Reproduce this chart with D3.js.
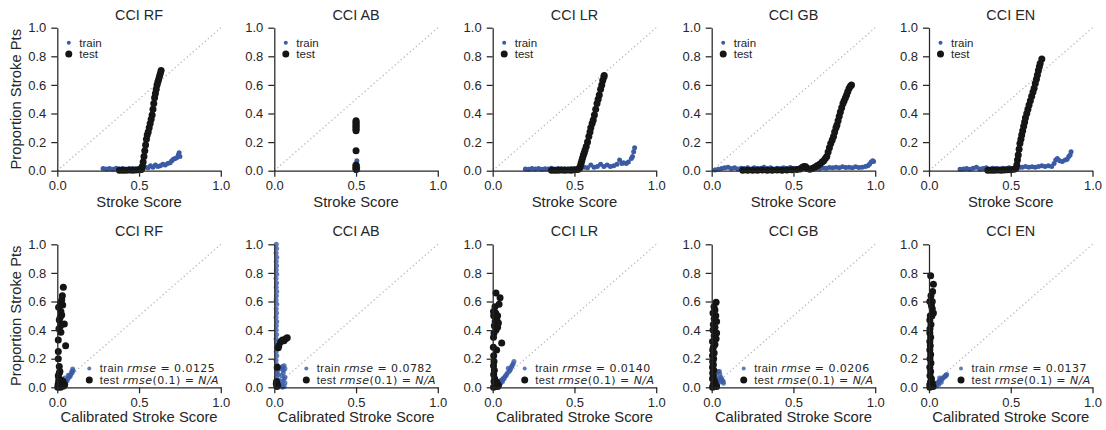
<!DOCTYPE html>
<html>
<head>
<meta charset="utf-8">
<script src="https://cdn.jsdelivr.net/npm/d3@7"></script>
<style>
  body { margin: 0; background: #fff; }
  text { font-family: "Liberation Sans", Arial, sans-serif; fill: #262626; }
  .math { font-family: "DejaVu Sans", sans-serif; }
</style>
</head>
<body>
<svg id="chart" width="1106" height="430"></svg>
<script>
var models = ["RF", "AB", "LR", "GB", "EN"];
var rmseLabels = ["0.0125", "0.0782", "0.0140", "0.0206", "0.0137"];
var xTicks = [0, 0.5, 1];
var yTicks = [0, 0.2, 0.4, 0.6, 0.8, 1];

// raw score calibration curves (top row)
var rfTrain = [[0.28,0.015],[0.30,0.012],[0.32,0.015],[0.34,0.01],[0.36,0.018],[0.38,0.012],[0.40,0.015],[0.42,0.01],[0.44,0.013],[0.46,0.016],[0.48,0.012],[0.50,0.018],[0.52,0.014],[0.54,0.025],[0.555,0.02],[0.57,0.035],[0.585,0.025],[0.60,0.04],[0.615,0.03],[0.63,0.035],[0.645,0.045],[0.66,0.04],[0.675,0.05],[0.69,0.055],[0.70,0.07],[0.71,0.08],[0.72,0.085],[0.73,0.09],[0.74,0.11],[0.745,0.125],[0.75,0.1]];
var rfTest = [[0.38,0.003],[0.40,0.004],[0.42,0.003],[0.44,0.005],[0.46,0.004],[0.48,0.005],[0.50,0.006],[0.51,0.008],[0.515,0.01],[0.52,0.03],[0.525,0.06],[0.53,0.1],[0.535,0.14],[0.54,0.18],[0.545,0.22],[0.55,0.25],[0.556,0.27],[0.562,0.30],[0.568,0.33],[0.574,0.36],[0.58,0.39],[0.585,0.43],[0.59,0.47],[0.595,0.51],[0.60,0.54],[0.605,0.57],[0.61,0.6],[0.615,0.62],[0.62,0.64],[0.625,0.66],[0.63,0.68],[0.635,0.70]];

var abTrain = [[0.5,0.0],[0.5,0.01],[0.5,0.02],[0.505,0.015],[0.5,0.03],[0.51,0.02],[0.505,0.04],[0.505,0.07],[0.51,0.005]];
var abTest = [[0.5,0.35],[0.5,0.34],[0.5,0.33],[0.5,0.32],[0.5,0.31],[0.5,0.30],[0.5,0.29],[0.5,0.28],[0.5,0.14],[0.5,0.04],[0.5,0.035],[0.5,0.025],[0.5,0.015],[0.5,0.01]];

var lrTrain = [[0.20,0.012],[0.22,0.01],[0.24,0.015],[0.26,0.012],[0.28,0.016],[0.30,0.01],[0.32,0.014],[0.34,0.012],[0.36,0.018],[0.38,0.01],[0.40,0.015],[0.42,0.012],[0.44,0.014],[0.46,0.01],[0.48,0.016],[0.50,0.012],[0.52,0.018],[0.54,0.02],[0.56,0.025],[0.58,0.02],[0.60,0.04],[0.62,0.025],[0.64,0.03],[0.66,0.045],[0.68,0.03],[0.70,0.04],[0.72,0.03],[0.74,0.035],[0.76,0.045],[0.776,0.075],[0.79,0.05],[0.80,0.055],[0.817,0.05],[0.83,0.06],[0.848,0.086],[0.855,0.1],[0.862,0.133],[0.868,0.16]];
var lrTest = [[0.36,0.003],[0.38,0.004],[0.40,0.003],[0.42,0.005],[0.44,0.004],[0.46,0.005],[0.48,0.004],[0.50,0.006],[0.52,0.008],[0.53,0.015],[0.535,0.03],[0.54,0.05],[0.545,0.07],[0.55,0.09],[0.555,0.11],[0.56,0.125],[0.565,0.145],[0.572,0.17],[0.58,0.2],[0.588,0.24],[0.595,0.27],[0.60,0.3],[0.608,0.33],[0.615,0.355],[0.622,0.39],[0.63,0.43],[0.638,0.47],[0.645,0.5],[0.652,0.53],[0.66,0.57],[0.667,0.6],[0.673,0.63],[0.68,0.655],[0.682,0.665]];

var gbTrain = [[0.02,0.005],[0.04,0.01],[0.06,0.015],[0.08,0.02],[0.10,0.025],[0.12,0.015],[0.14,0.02],[0.16,0.012],[0.18,0.018],[0.20,0.015],[0.22,0.02],[0.24,0.012],[0.26,0.02],[0.28,0.015],[0.30,0.018],[0.32,0.025],[0.34,0.015],[0.36,0.02],[0.38,0.012],[0.40,0.018],[0.42,0.015],[0.44,0.02],[0.46,0.015],[0.48,0.022],[0.50,0.018],[0.52,0.015],[0.54,0.02],[0.56,0.018],[0.58,0.022],[0.60,0.015],[0.62,0.02],[0.64,0.018],[0.66,0.015],[0.68,0.02],[0.70,0.018],[0.72,0.022],[0.74,0.02],[0.76,0.025],[0.78,0.02],[0.80,0.028],[0.82,0.022],[0.84,0.025],[0.86,0.02],[0.88,0.028],[0.90,0.022],[0.92,0.025],[0.94,0.03],[0.955,0.035],[0.965,0.045],[0.975,0.06],[0.985,0.07],[0.99,0.065]];
var gbTest = [[0.19,0.003],[0.22,0.004],[0.25,0.003],[0.28,0.004],[0.31,0.005],[0.34,0.004],[0.37,0.003],[0.40,0.005],[0.43,0.004],[0.46,0.005],[0.49,0.006],[0.52,0.008],[0.54,0.012],[0.555,0.025],[0.565,0.03],[0.575,0.028],[0.585,0.015],[0.60,0.01],[0.615,0.015],[0.63,0.025],[0.645,0.035],[0.66,0.045],[0.675,0.06],[0.685,0.07],[0.695,0.085],[0.704,0.1],[0.712,0.13],[0.72,0.16],[0.728,0.19],[0.737,0.214],[0.745,0.24],[0.752,0.27],[0.76,0.3],[0.766,0.32],[0.773,0.35],[0.78,0.38],[0.787,0.41],[0.795,0.44],[0.803,0.47],[0.81,0.49],[0.818,0.51],[0.825,0.53],[0.832,0.552],[0.84,0.575],[0.848,0.59],[0.855,0.6]];

var enTrain = [[0.19,0.01],[0.21,0.012],[0.23,0.015],[0.25,0.01],[0.27,0.018],[0.29,0.025],[0.31,0.012],[0.33,0.015],[0.35,0.02],[0.37,0.012],[0.39,0.018],[0.41,0.015],[0.43,0.012],[0.45,0.018],[0.47,0.014],[0.49,0.02],[0.51,0.016],[0.53,0.02],[0.55,0.022],[0.57,0.025],[0.59,0.03],[0.61,0.025],[0.63,0.028],[0.65,0.025],[0.67,0.03],[0.69,0.035],[0.71,0.03],[0.73,0.035],[0.75,0.03],[0.765,0.05],[0.775,0.075],[0.785,0.086],[0.80,0.07],[0.815,0.065],[0.833,0.075],[0.845,0.08],[0.855,0.1],[0.863,0.11],[0.869,0.133]];
var enTest = [[0.36,0.003],[0.38,0.004],[0.40,0.003],[0.42,0.005],[0.44,0.004],[0.46,0.005],[0.48,0.006],[0.50,0.007],[0.52,0.01],[0.53,0.015],[0.537,0.04],[0.541,0.075],[0.546,0.11],[0.551,0.15],[0.556,0.19],[0.562,0.22],[0.567,0.249],[0.573,0.28],[0.579,0.31],[0.585,0.34],[0.59,0.37],[0.598,0.40],[0.605,0.43],[0.612,0.46],[0.62,0.49],[0.628,0.52],[0.636,0.55],[0.643,0.576],[0.65,0.61],[0.657,0.64],[0.663,0.67],[0.669,0.70],[0.675,0.727],[0.68,0.75],[0.69,0.781]];

// calibrated score curves (bottom row)
var rfCalTrain = [[0.005,0.005],[0.01,0.0],[0.015,0.01],[0.02,0.005],[0.025,0.015],[0.03,0.01],[0.035,0.02],[0.04,0.03],[0.045,0.025],[0.05,0.04],[0.055,0.05],[0.06,0.045],[0.065,0.06],[0.067,0.085],[0.07,0.07],[0.075,0.08],[0.078,0.075],[0.082,0.09],[0.088,0.11],[0.09,0.1],[0.094,0.128],[0.097,0.115],[0.04,0.0],[0.05,0.02],[0.045,0.065]];
var rfCalTest = [[0.003,0.0],[0.005,0.02],[0.008,0.04],[0.01,0.06],[0.006,0.08],[0.012,0.1],[0.016,0.11],[0.012,0.145],[0.006,0.2],[0.006,0.25],[0.006,0.33],[0.022,0.385],[0.01,0.41],[0.012,0.47],[0.043,0.443],[0.027,0.506],[0.022,0.53],[0.008,0.56],[0.033,0.576],[0.02,0.59],[0.027,0.61],[0.031,0.64],[0.037,0.70],[0.051,0.291],[0.03,0.02],[0.04,0.01],[0.02,0.0],[0.015,0.03],[0.025,0.05],[0.035,0.04],[0.045,0.02],[0.01,0.01],[0.02,0.43],[0.018,0.49]];

var abCalTrain = [[0.012,1.0],[0.014,0.97],[0.011,0.94],[0.015,0.91],[0.012,0.88],[0.014,0.85],[0.012,0.82],[0.015,0.79],[0.011,0.76],[0.014,0.73],[0.012,0.70],[0.015,0.67],[0.013,0.64],[0.011,0.61],[0.015,0.58],[0.012,0.55],[0.014,0.52],[0.011,0.49],[0.015,0.46],[0.013,0.43],[0.012,0.40],[0.014,0.37],[0.011,0.34],[0.015,0.31],[0.013,0.28],[0.012,0.25],[0.015,0.22],[0.011,0.19],[0.014,0.16],[0.012,0.13],[0.015,0.10],[0.013,0.07],[0.011,0.04],[0.014,0.01],[0.02,0.12],[0.03,0.14],[0.04,0.13],[0.05,0.145],[0.06,0.15],[0.065,0.13],[0.055,0.1],[0.045,0.08],[0.06,0.06],[0.05,0.04],[0.065,0.03],[0.04,0.02],[0.03,0.05],[0.025,0.09],[0.06,0.005],[0.05,0.0],[0.035,0.01],[0.02,0.03],[0.065,0.07],[0.055,0.12]];
var abCalTest = [[0.079,0.347],[0.07,0.34],[0.059,0.326],[0.05,0.33],[0.039,0.319],[0.028,0.29],[0.024,0.277],[0.018,0.14],[0.014,0.04],[0.02,0.016],[0.012,0.025],[0.016,0.005]];

var lrCalTrain = [[0.01,0.005],[0.02,0.01],[0.025,0.0],[0.03,0.02],[0.035,0.028],[0.04,0.035],[0.045,0.04],[0.05,0.047],[0.055,0.05],[0.06,0.055],[0.065,0.063],[0.07,0.06],[0.075,0.075],[0.08,0.08],[0.085,0.09],[0.09,0.1],[0.095,0.133],[0.1,0.11],[0.106,0.121],[0.11,0.13],[0.116,0.145],[0.12,0.155],[0.125,0.165],[0.13,0.18],[0.04,0.01],[0.05,0.03],[0.06,0.04]];
var lrCalTest = [[0.02,0.66],[0.045,0.627],[0.039,0.58],[0.014,0.564],[0.005,0.53],[0.018,0.52],[0.03,0.5],[0.025,0.47],[0.035,0.45],[0.01,0.43],[0.03,0.42],[0.02,0.40],[0.008,0.38],[0.005,0.35],[0.055,0.31],[0.024,0.26],[0.006,0.22],[0.008,0.18],[0.005,0.15],[0.01,0.12],[0.006,0.09],[0.012,0.06],[0.008,0.04],[0.02,0.02],[0.015,0.01],[0.03,0.005],[0.005,0.0],[0.035,0.015],[0.025,0.035],[0.004,0.28],[0.015,0.46],[0.006,0.50]];

var gbCalTrain = [[0.01,0.25],[0.012,0.2],[0.015,0.15],[0.02,0.12],[0.03,0.1],[0.04,0.11],[0.047,0.11],[0.05,0.09],[0.055,0.07],[0.06,0.06],[0.058,0.04],[0.072,0.028],[0.065,0.05],[0.07,0.04],[0.045,0.06],[0.04,0.03],[0.03,0.02],[0.02,0.01],[0.01,0.005],[0.035,0.05],[0.025,0.07]];
var gbCalTest = [[0.027,0.594],[0.014,0.564],[0.02,0.54],[0.008,0.52],[0.025,0.50],[0.015,0.48],[0.03,0.46],[0.01,0.44],[0.02,0.42],[0.008,0.40],[0.03,0.38],[0.015,0.36],[0.027,0.34],[0.005,0.32],[0.02,0.30],[0.01,0.28],[0.006,0.26],[0.015,0.24],[0.005,0.22],[0.012,0.20],[0.006,0.18],[0.01,0.16],[0.005,0.14],[0.012,0.12],[0.006,0.10],[0.01,0.08],[0.005,0.06],[0.015,0.05],[0.02,0.03],[0.01,0.02],[0.025,0.01],[0.005,0.0],[0.03,0.005]];

var enCalTrain = [[0.01,0.005],[0.02,0.01],[0.03,0.02],[0.04,0.025],[0.05,0.03],[0.057,0.028],[0.06,0.04],[0.067,0.05],[0.07,0.045],[0.075,0.055],[0.08,0.06],[0.084,0.063],[0.09,0.07],[0.098,0.075],[0.1,0.08],[0.105,0.085],[0.108,0.09],[0.06,0.02],[0.065,0.065],[0.075,0.035],[0.045,0.01]];
var enCalTest = [[0.01,0.78],[0.027,0.72],[0.022,0.67],[0.012,0.64],[0.005,0.60],[0.015,0.57],[0.02,0.55],[0.027,0.52],[0.008,0.50],[0.005,0.47],[0.012,0.44],[0.006,0.41],[0.005,0.38],[0.01,0.35],[0.005,0.32],[0.008,0.29],[0.005,0.26],[0.01,0.23],[0.006,0.20],[0.012,0.17],[0.005,0.14],[0.01,0.11],[0.006,0.08],[0.015,0.06],[0.01,0.04],[0.02,0.03],[0.005,0.02],[0.015,0.01],[0.025,0.005],[0.005,0.0],[0.018,0.50],[0.02,0.60]];

var rawTrain = [rfTrain, abTrain, lrTrain, gbTrain, enTrain];
var rawTest = [rfTest, abTest, lrTest, gbTest, enTest];
var calTrain = [rfCalTrain, abCalTrain, lrCalTrain, gbCalTrain, enCalTrain];
var calTest = [rfCalTest, abCalTest, lrCalTest, gbCalTest, enCalTest];

// layout
var panelLeft = [57.3, 274.3, 492.7, 711.7, 929];
var rowTop = [27.7, 244.3];
var pw = 163.5, ph = 143;
var trainColor = "#3b5ba5", testColor = "#151515", spineColor = "#262626";

var svg = d3.select("#chart");

function drawPanel(row, col) {
  var x0 = panelLeft[col], y0 = rowTop[row];
  var x = d3.scaleLinear().domain([0, 1]).range([x0, x0 + pw]);
  var y = d3.scaleLinear().domain([0, 1]).range([y0 + ph, y0]);
  var g = svg.append("g");

  // diagonal reference
  g.append("line")
    .attr("x1", x(0)).attr("y1", y(0))
    .attr("x2", x(1)).attr("y2", y(1))
    .attr("stroke", "#b8b8b8")
    .attr("stroke-width", 1.3)
    .attr("stroke-dasharray", "1.3,2.7");

  var train = row == 0 ? rawTrain[col] : calTrain[col];
  var test = row == 0 ? rawTest[col] : calTest[col];

  g.append("g").selectAll("circle").data(train).enter().append("circle")
    .attr("cx", function(d) { return x(d[0]); })
    .attr("cy", function(d) { return y(d[1]); })
    .attr("r", 2.5)
    .attr("fill", trainColor)
    .attr("fill-opacity", row == 0 ? 1 : 0.8);

  g.append("g").selectAll("circle").data(test).enter().append("circle")
    .attr("cx", function(d) { return x(d[0]); })
    .attr("cy", function(d) { return y(d[1]); })
    .attr("r", 3.5)
    .attr("fill", testColor);

  var xAxis = g.append("g")
    .attr("transform", "translate(0," + (y0 + ph) + ")")
    .call(d3.axisBottom(x).tickValues(xTicks).tickFormat(d3.format(".1f"))
      .tickSizeInner(6).tickSizeOuter(0).tickPadding(4));
  var yAxis = g.append("g")
    .attr("transform", "translate(" + x0 + ",0)")
    .call(d3.axisLeft(y).tickValues(yTicks).tickFormat(d3.format(".1f"))
      .tickSizeInner(6).tickSizeOuter(0).tickPadding(5));
  [xAxis, yAxis].forEach(function(a) {
    a.attr("font-family", null);
    a.selectAll("path, line").attr("stroke", spineColor).attr("stroke-width", 1.25);
    a.selectAll("text").style("font-size", "13px").attr("fill", spineColor);
  });

  g.append("text")
    .attr("x", x0 + pw / 2).attr("y", y0 - 8)
    .attr("text-anchor", "middle")
    .style("font-size", "14.4px")
    .text("CCI " + models[col]);

  g.append("text")
    .attr("x", x0 + pw / 2).attr("y", y0 + ph + (row == 0 ? 36.5 : 34.8))
    .attr("text-anchor", "middle")
    .style("font-size", "14.8px")
    .text(row == 0 ? "Stroke Score" : "Calibrated Stroke Score");

  if (col == 0) {
    g.append("text")
      .attr("transform", "translate(21," + (y0 + ph / 2) + ") rotate(-90)")
      .attr("text-anchor", "middle")
      .style("font-size", "14.8px")
      .text("Proportion Stroke Pts");
  }

  // legends
  if (row == 0) {
    var lx = x0 + 11.5;
    g.append("circle").attr("cx", lx).attr("cy", y0 + 15).attr("r", 2).attr("fill", trainColor);
    g.append("circle").attr("cx", lx).attr("cy", y0 + 26.3).attr("r", 3.5).attr("fill", testColor);
    g.append("text").attr("x", lx + 10.5).attr("y", y0 + 15).attr("dy", "0.35em")
      .style("font-size", "11.5px").text("train");
    g.append("text").attr("x", lx + 10.5).attr("y", y0 + 26.3).attr("dy", "0.35em")
      .style("font-size", "11.5px").text("test");
  } else {
    var bx = x0 + 32;
    var ty = y0 + ph - 18.8, sy = y0 + ph - 7.2;
    g.append("circle").attr("cx", bx).attr("cy", ty).attr("r", 2).attr("fill", trainColor).attr("fill-opacity", 0.8);
    g.append("circle").attr("cx", bx).attr("cy", sy).attr("r", 3.5).attr("fill", testColor);
    var t1 = g.append("text").attr("x", bx + 10.5).attr("y", ty).attr("dy", "0.35em")
      .style("font-size", "11px").style("letter-spacing", "0.45px");
    t1.append("tspan").text("train ");
    t1.append("tspan").attr("class", "math").style("font-style", "italic").text("rmse");
    t1.append("tspan").attr("class", "math").text(" = " + rmseLabels[col]);
    var t2 = g.append("text").attr("x", bx + 10.5).attr("y", sy).attr("dy", "0.35em")
      .style("font-size", "11px").style("letter-spacing", "0.45px");
    t2.append("tspan").text("test ");
    t2.append("tspan").attr("class", "math").style("font-style", "italic").text("rmse");
    t2.append("tspan").attr("class", "math").text("(0.1) = ");
    t2.append("tspan").attr("class", "math").style("font-style", "italic").text("N/A");
  }
}

for (var r = 0; r < 2; r++) {
  for (var c = 0; c < 5; c++) {
    drawPanel(r, c);
  }
}
</script>
</body>
</html>
